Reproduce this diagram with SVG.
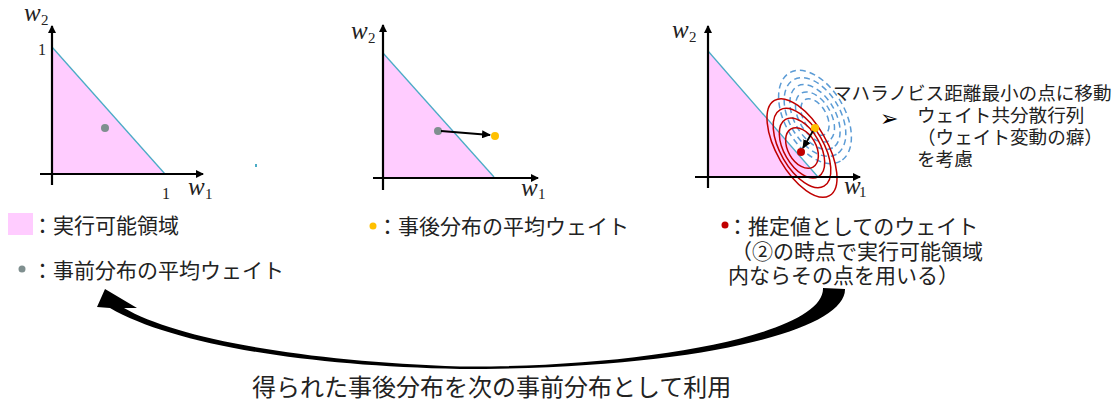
<svg xmlns="http://www.w3.org/2000/svg" width="1119" height="410" viewBox="0 0 1119 410">
<style>
.ax{stroke:#000;stroke-width:2.2;fill:none}
.feas{fill:#ffccff;stroke:none}
.hyp{stroke:#4bacc6;stroke-width:1.3;fill:none}
.jp{font-family:"Noto Sans CJK JP","Noto Sans",sans-serif;fill:#222}
.w{font-family:"Liberation Serif",serif;font-style:italic;font-size:25px;fill:#222}
.sub{font-family:"Liberation Serif",serif;font-size:15px;fill:#222}
.one{font-family:"Liberation Serif",serif;font-size:16px;fill:#222}
.red{fill:none;stroke:#c00000;stroke-width:1.5}
.blue{fill:none;stroke:#5b9bd5;stroke-width:1.5;stroke-dasharray:6 4}
</style>
<defs>
<marker id="ah" markerWidth="8" markerHeight="8" refX="7" refY="4" orient="auto" markerUnits="userSpaceOnUse">
<path d="M0,0 L8,4 L0,8 Z" fill="#000"/>
</marker>
<marker id="sh" markerWidth="9" markerHeight="8" refX="8" refY="4" orient="auto" markerUnits="userSpaceOnUse">
<path d="M0,0 L9,4 L0,8 Z" fill="#000"/>
</marker>
</defs>

<g id="panel1">
<polygon class="feas" points="52,47 52,174 165,174"/>
<line class="hyp" x1="52" y1="47" x2="165" y2="174"/>
<line class="ax" x1="52" y1="185" x2="52" y2="26" marker-end="url(#ah)"/>
<line class="ax" x1="40" y1="174" x2="203" y2="174" marker-end="url(#ah)"/>
<text class="w" x="24" y="21">w</text><text class="sub" x="41" y="25">2</text>
<text class="w" x="188" y="195">w</text><text class="sub" x="205" y="199">1</text>
<text class="one" x="38" y="55">1</text>
<text class="one" x="162" y="199">1</text>
<circle cx="105" cy="128" r="4" fill="#7f8f8f"/>
</g>

<g id="panel2">
<polygon class="feas" points="383,53 383,177 494,177"/>
<line class="hyp" x1="383" y1="53" x2="494" y2="177"/>
<line class="ax" x1="383" y1="190" x2="383" y2="25" marker-end="url(#ah)"/>
<line class="ax" x1="373" y1="178" x2="538" y2="178" marker-end="url(#ah)"/>
<text class="w" x="351" y="39">w</text><text class="sub" x="368" y="43">2</text>
<text class="w" x="521" y="196">w</text><text class="sub" x="538" y="199">1</text>
<circle cx="438" cy="131" r="4" fill="#7f8f8f"/>
<circle cx="495" cy="136" r="4" fill="#ffc000"/>
</g>

<g id="panel3">
<polygon class="feas" points="708,51 708,177 818,177"/>
<line class="hyp" x1="708" y1="51" x2="818" y2="177"/>
<g transform="translate(815,117) rotate(60)">
<ellipse class="blue" rx="20" ry="11.5"/>
<ellipse class="blue" rx="27.5" ry="16"/>
<ellipse class="blue" rx="35.5" ry="20.5"/>
<ellipse class="blue" rx="43" ry="25.5"/>
<ellipse class="blue" rx="51" ry="30"/>
</g>
<g transform="translate(802,148) rotate(60)">
<ellipse class="red" rx="22" ry="14"/>
<ellipse class="red" rx="33" ry="18"/>
<ellipse class="red" rx="44" ry="21.5"/>
<ellipse class="red" rx="55" ry="25"/>
</g>
<line class="ax" x1="708" y1="188" x2="708" y2="26" marker-end="url(#ah)"/>
<line class="ax" x1="695" y1="177" x2="860" y2="177" marker-end="url(#ah)"/>
<text class="w" x="672" y="38">w</text><text class="sub" x="689" y="42">2</text>
<text class="w" x="844" y="194">w</text><text class="sub" x="859" y="197">1</text>
<circle cx="815" cy="128" r="4" fill="#ffc000"/>
<circle cx="801" cy="152" r="4" fill="#c00000"/>
</g>

<g id="connectors">
<line x1="441" y1="131" x2="490" y2="135" stroke="#000" stroke-width="2" marker-end="url(#sh)"/>
<line x1="813" y1="131" x2="803" y2="148" stroke="#000" stroke-width="1.8" marker-end="url(#sh)"/>
<path d="M105,289 L137,308 L124,308 C175,338 300,361 460,366.5 C640,368 825,335 823,288 L845,289 C846,330 700,369 460,369 C300,366 170,343 110,308 L97,307 Z" fill="#000"/>
</g>

<g id="annotation">
<text class="jp" font-size="18.6" x="833" y="100">マハラノビス距離最小の点に移動</text>
<text x="880" y="126" font-family="DejaVu Sans,sans-serif" font-size="22" fill="#000">➢</text>
<text class="jp" font-size="18.6" x="917" y="122">ウェイト共分散行列</text>
<text class="jp" font-size="18.6" x="917" y="144">（ウェイト変動の癖）</text>
<text class="jp" font-size="18.6" x="917" y="166">を考慮</text>
</g>

<g id="legend1">
<rect x="8" y="213" width="25" height="22" fill="#ffccff"/>
<text class="jp" font-size="21" x="32" y="233">：実行可能領域</text>
</g>
<g id="legend2">
<circle cx="22" cy="269" r="3.5" fill="#7f8f8f"/>
<text class="jp" font-size="21" x="32" y="278">：事前分布の平均ウェイト</text>
</g>
<g id="legend3">
<circle cx="373" cy="226" r="3.5" fill="#ffc000"/>
<text class="jp" font-size="21" x="377" y="234">：事後分布の平均ウェイト</text>
</g>
<g id="legend4">
<circle cx="725" cy="225" r="3.5" fill="#c00000"/>
<text class="jp" font-size="21" x="727" y="234">：推定値としてのウェイト</text>
<text class="jp" font-size="21" x="731" y="258.5">（②の時点で実行可能領域</text>
<text class="jp" font-size="21" x="728" y="283">内ならその点を用いる）</text>
</g>
<g id="caption">
<text class="jp" font-size="24" x="252" y="396">得られた事後分布を次の事前分布として利用</text>
</g>
<rect x="255" y="164" width="2" height="3" fill="#4bacc6"/>
</svg>
